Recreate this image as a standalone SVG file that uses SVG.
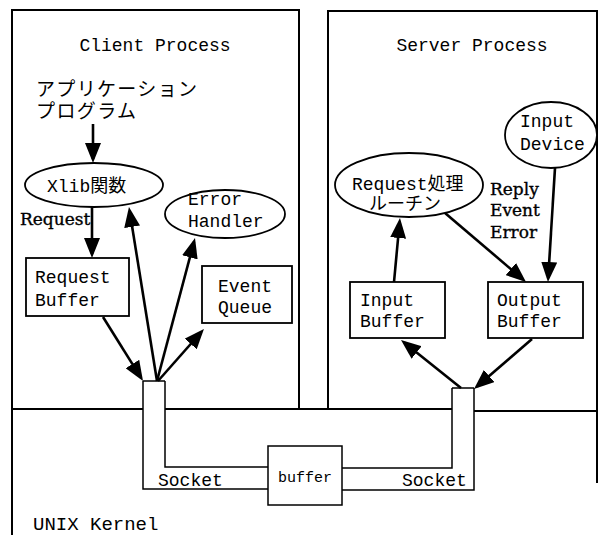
<svg xmlns="http://www.w3.org/2000/svg" width="599" height="535" viewBox="0 0 599 535">
<style>
.frame{fill:none;stroke:#000;stroke-width:2}
.box{fill:#fff;stroke:#000;stroke-width:1.8}
.pipe{fill:none;stroke:#000;stroke-width:1.5}
.arr{fill:none;stroke:#000;stroke-width:2.6;marker-end:url(#ah)}
.t{font-family:"Liberation Mono","Noto Sans CJK JP",monospace;font-size:18px;fill:#000}
.j{font-family:"Liberation Mono","Noto Sans CJK JP",monospace;font-size:19px;fill:#000}
.s{font-family:"DejaVu Serif","Liberation Serif",serif;font-size:17px;fill:#000;stroke:#000;stroke-width:0.35}
</style>
<defs>
<marker id="ah" viewBox="0 0 20 16" refX="16" refY="8" markerWidth="20" markerHeight="16" markerUnits="userSpaceOnUse" orient="auto">
<path d="M0,0 L20,8 L0,16 Z" fill="#000"/>
</marker>
</defs>
<rect width="599" height="535" fill="#fff"/>

<g id="client-process">
<path class="frame" d="M12,535 V10 H299 V409"/>
<text class="t" x="155" y="51" text-anchor="middle">Client Process</text>
</g>
<g id="server-process">
<path class="frame" d="M328,409 V11 H597 V483"/>
<text class="t" x="472" y="51" text-anchor="middle">Server Process</text>
</g>
<g id="unix-kernel">
<path class="frame" d="M12,409 H143 M165,409 H452 M474,411 H598"/>
<text class="t" x="33" y="530" style="font-size:19px">UNIX Kernel</text>
</g>

<g id="application">
<text class="j" x="36" y="96" textLength="161">アプリケーション</text>
<text class="j" x="36" y="118" textLength="100">プログラム</text>
</g>
<g id="xlib">
<ellipse class="box" cx="94" cy="185" rx="69" ry="22"/>
<text class="t" x="47" y="192">Xlib関数</text>
</g>
<g id="request-buffer">
<rect class="box" x="26" y="258" width="103" height="58"/>
<text class="t" x="35" y="283">Request</text>
<text class="t" x="35" y="306">Buffer</text>
</g>
<g id="error-handler">
<ellipse class="box" cx="225" cy="214" rx="60" ry="24"/>
<text class="t" x="188" y="205">Error</text>
<text class="t" x="188" y="227">Handler</text>
</g>
<g id="event-queue">
<rect class="box" x="202" y="266" width="90" height="57"/>
<text class="t" x="218" y="292">Event</text>
<text class="t" x="218" y="313">Queue</text>
</g>
<g id="request-routine">
<ellipse class="box" cx="409" cy="185" rx="74" ry="32"/>
<text class="t" x="352" y="190">Request処理</text>
<text class="t" x="369" y="210">ルーチン</text>
</g>
<g id="input-device">
<ellipse class="box" cx="551" cy="135" rx="46" ry="33"/>
<text class="t" x="520" y="127">Input</text>
<text class="t" x="520" y="150">Device</text>
</g>
<g id="input-buffer">
<rect class="box" x="350" y="282" width="95" height="56"/>
<text class="t" x="360" y="306">Input</text>
<text class="t" x="360" y="327">Buffer</text>
</g>
<g id="output-buffer">
<rect class="box" x="488" y="282" width="95" height="56"/>
<text class="t" x="497" y="306">Output</text>
<text class="t" x="497" y="327">Buffer</text>
</g>
<g id="client-socket">
<path class="pipe" d="M143,381 H165 M143,381 V489 H268 M165,381 V467 H268"/>
<text class="t" x="158" y="486">Socket</text>
</g>
<g id="server-socket">
<path class="pipe" d="M452,388 H474 M452,388 V468 H342 M474,388 V490 H342"/>
<text class="t" x="402" y="486">Socket</text>
</g>
<g id="kernel-buffer">
<rect class="box" x="268" y="446" width="74" height="59" style="stroke-width:1.5"/>
<text class="t" x="305" y="482" text-anchor="middle" style="font-size:15px">buffer</text>
</g>

<g id="connectors">
<line class="arr" x1="93" y1="124" x2="93" y2="159"/>
<line class="arr" x1="92" y1="207" x2="92" y2="254"/>
<line class="arr" x1="103" y1="317" x2="140.9" y2="377.6"/>
<line class="arr" x1="157" y1="381" x2="129.6" y2="211"/>
<line class="arr" x1="157" y1="381" x2="194" y2="241.9"/>
<line class="arr" x1="158" y1="381" x2="201.3" y2="332"/>
<line class="arr" x1="394" y1="282" x2="399.6" y2="222"/>
<line class="arr" x1="445" y1="213" x2="523" y2="279.4"/>
<line class="arr" x1="555" y1="168" x2="548.2" y2="278"/>
<line class="arr" x1="461" y1="388" x2="404.1" y2="342.5"/>
<line class="arr" x1="532" y1="339" x2="477" y2="386.4"/>
<text class="s" x="20" y="225">Request</text>
<text class="s" x="490" y="195">Reply</text>
<text class="s" x="490" y="216">Event</text>
<text class="s" x="490" y="238">Error</text>
</g>
</svg>
